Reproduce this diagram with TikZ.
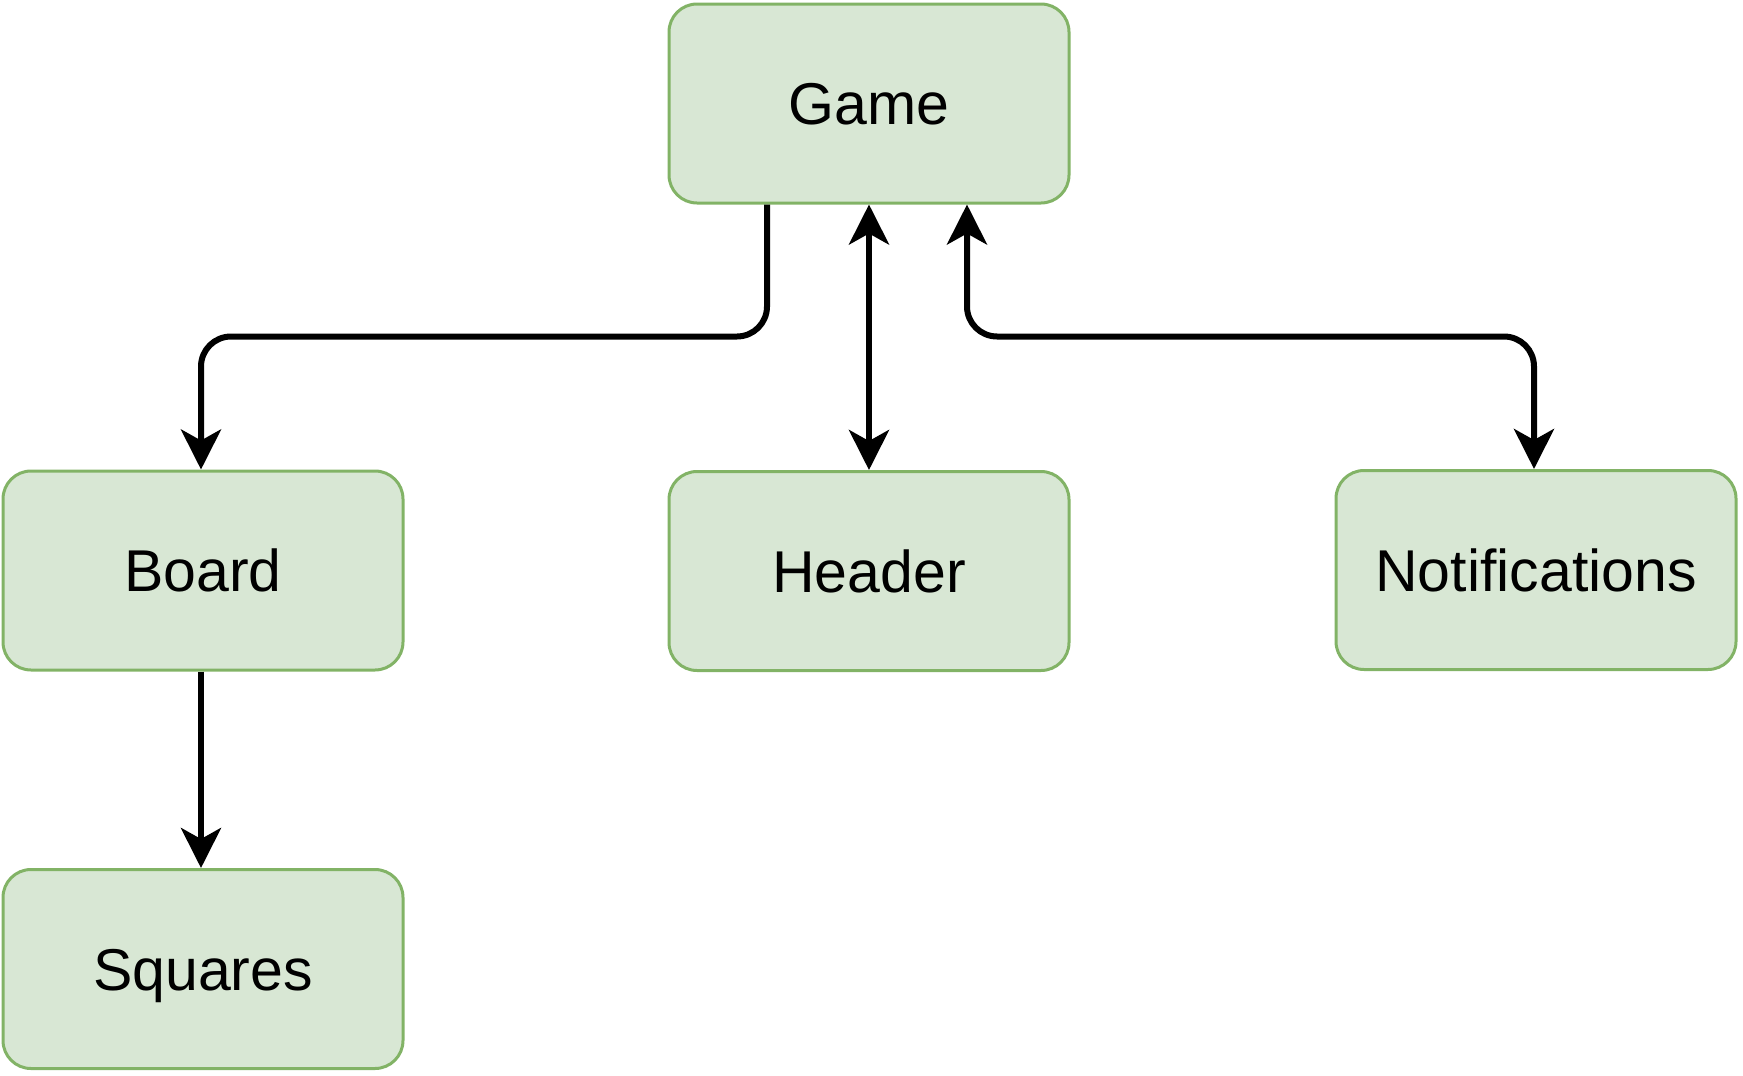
\documentclass[tikz,border=0pt]{standalone}
\usepackage{fontspec}
\setmainfont{Liberation Sans}
\usetikzlibrary{arrows.meta}
\definecolor{boxfill}{HTML}{D8E7D4}
\definecolor{boxdraw}{HTML}{82B366}
\begin{document}
\begin{tikzpicture}[x=1pt,y=-1pt,
  box/.style={draw=boxdraw,fill=boxfill,line width=3pt,rounded corners=28pt,
    minimum width=400pt,minimum height=199pt,inner sep=0pt,
    text height=42pt,text depth=0pt,
    font=\fontsize{59}{70}\selectfont},
  conn/.style={draw=black,line width=6pt,rounded corners=30pt},
  tip/.tip={Stealth[length=40pt,width=40pt,inset=11pt]}]
\useasboundingbox (0,0) rectangle (1743,1076);
\node[box] (game) at (869,103.5) {Game};
\node[box] (board) at (203,570.5) {Board};
\node[box] (header) at (869,571) {Header};
\node[box] (notif) at (1536,570) {Notifications};
\node[box] (squares) at (203,969) {Squares};
\draw[conn,-tip] ([xshift=-102pt]game.south) -- ++(0,132) -| ([xshift=-2pt]board.north);
\draw[conn,tip-tip] (game.south) -- (header.north);
\draw[conn,tip-tip] ([xshift=98pt]game.south) -- ++(0,132) -| ([xshift=-2pt]notif.north);
\draw[conn,-tip] ([xshift=-2pt]board.south) -- ([xshift=-2pt]squares.north);
\end{tikzpicture}
\end{document}
